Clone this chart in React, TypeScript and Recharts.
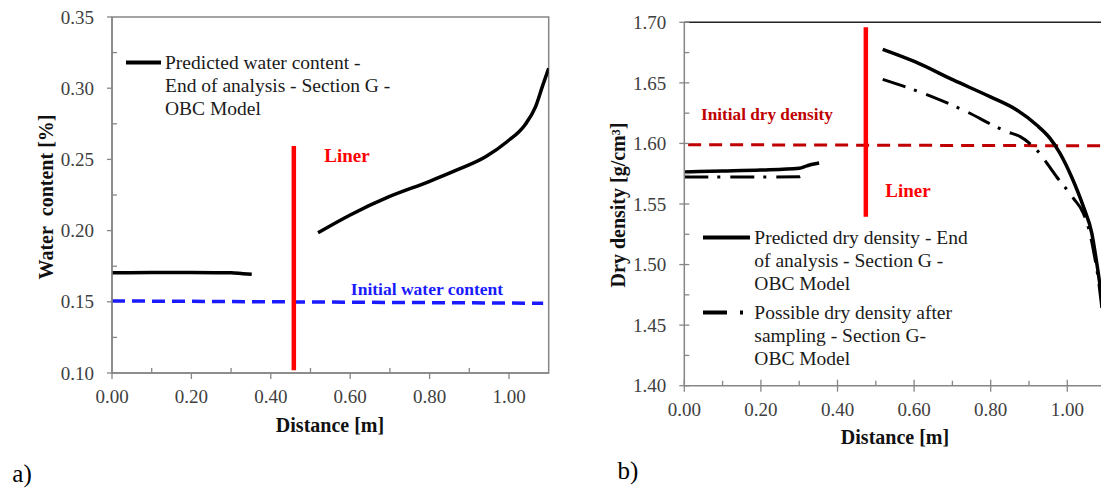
import React from 'react';
import { LineChart, Line, XAxis, YAxis, ReferenceLine, ReferenceArea } from 'recharts';

const FONT = '"Liberation Serif", "Times New Roman", serif';
const AXIS = '#868686';

// shared x ticks (0.2 labelled, 0.1 minor)
const xTicks = [0, 0.1, 0.2, 0.3, 0.4, 0.5, 0.6, 0.7, 0.8, 0.9, 1.0];

// a) water content
const wcTicks = [0.1, 0.125, 0.15, 0.175, 0.2, 0.225, 0.25, 0.275, 0.3, 0.325, 0.35];
const wcBefore = [
  { x: 0, y: 0.1704 }, { x: 0.1, y: 0.1705 }, { x: 0.2, y: 0.1705 }, { x: 0.3, y: 0.1704 },
  { x: 0.33, y: 0.1697 }, { x: 0.352, y: 0.1693 },
];
const wcAfter = [
  { x: 0.519, y: 0.1985 }, { x: 0.6, y: 0.211 }, { x: 0.698, y: 0.2238 }, { x: 0.797, y: 0.2343 },
  { x: 0.869, y: 0.2426 }, { x: 0.941, y: 0.2519 }, { x: 0.995, y: 0.2624 }, { x: 1.04, y: 0.2742 },
  { x: 1.067, y: 0.287 }, { x: 1.085, y: 0.302 }, { x: 1.1, y: 0.314 },
];
const wcInitial = [{ x: 0, y: 0.1506 }, { x: 1.086, y: 0.149 }];
const wcLiner = [{ x: 0.458, y: 0.102 }, { x: 0.458, y: 0.2594 }];

// b) dry density
const ddTicks = [1.4, 1.425, 1.45, 1.475, 1.5, 1.525, 1.55, 1.575, 1.6, 1.625, 1.65, 1.675, 1.7];
const ddBefore = [
  { x: 0, y: 1.5765 }, { x: 0.1, y: 1.5772 }, { x: 0.2, y: 1.578 }, { x: 0.3, y: 1.5795 },
  { x: 0.32, y: 1.5815 }, { x: 0.335, y: 1.5828 }, { x: 0.352, y: 1.5838 },
];
const ddAfter = [
  { x: 0.518, y: 1.6777 }, { x: 0.602, y: 1.6675 }, { x: 0.702, y: 1.6524 }, { x: 0.798, y: 1.6386 },
  { x: 0.868, y: 1.6276 }, { x: 0.92, y: 1.6152 }, { x: 0.955, y: 1.6042 }, { x: 0.981, y: 1.5918 },
  { x: 1.011, y: 1.5725 }, { x: 1.042, y: 1.5478 }, { x: 1.064, y: 1.5258 }, { x: 1.077, y: 1.501 },
  { x: 1.088, y: 1.4763 }, { x: 1.1, y: 1.44 },
];
const ddSampBefore = [
  { x: 0, y: 1.5722 }, { x: 0.15, y: 1.5722 }, { x: 0.3, y: 1.5725 }, { x: 0.315, y: 1.5755 },
];
const ddSampAfter = [
  { x: 0.518, y: 1.6529 }, { x: 0.624, y: 1.6414 }, { x: 0.728, y: 1.6276 }, { x: 0.842, y: 1.6097 },
  { x: 0.877, y: 1.6056 }, { x: 0.92, y: 1.5946 }, { x: 0.972, y: 1.5725 }, { x: 1.016, y: 1.5547 },
  { x: 1.042, y: 1.5423 }, { x: 1.059, y: 1.5258 }, { x: 1.068, y: 1.512 }, { x: 1.08, y: 1.49 },
  { x: 1.095, y: 1.45 },
];
const ddInitial = [{ x: 0.01, y: 1.599 }, { x: 1.1, y: 1.598 }];
const ddLiner = [{ x: 0.474, y: 1.5395 }, { x: 0.474, y: 1.6959 }];

const isMajor = (v: number, step: number) => Math.abs(v / step - Math.round(v / step)) < 1e-6;

function YTick(props: any) {
  const { x, y, payload, cross } = props;
  const major = isMajor(payload.value, 0.05);
  return (
    <g>
      {major ? (
        <line x1={x - 5} x2={cross ? x + 5 : x} y1={y} y2={y} stroke={AXIS} strokeWidth={1.3} />
      ) : (
        <line x1={x} x2={x + 5} y1={y} y2={y} stroke={AXIS} strokeWidth={1.3} />
      )}
      {major && (
        <text x={x - 18} y={y} dy="0.35em" textAnchor="end" fontFamily={FONT} fontSize={19} fill="#404040">
          {payload.value.toFixed(2)}
        </text>
      )}
    </g>
  );
}

function XTick(props: any) {
  const { x, y, payload, cross } = props;
  const major = isMajor(payload.value, 0.2);
  return (
    <g>
      {major ? (
        <line x1={x} x2={x} y1={cross ? y - 6 : y} y2={y + 6} stroke={AXIS} strokeWidth={1.3} />
      ) : (
        <line x1={x} x2={x} y1={y - 5} y2={y} stroke={AXIS} strokeWidth={1.3} />
      )}
      {major && (
        <text x={x} y={y + 30} textAnchor="middle" fontFamily={FONT} fontSize={19} fill="#404040">
          {payload.value.toFixed(2)}
        </text>
      )}
    </g>
  );
}

const legendText: React.CSSProperties = {
  fontFamily: FONT, fontSize: 19.5, lineHeight: '23px', color: '#1a1a1a', whiteSpace: 'nowrap',
};

const Sample = ({ dash, len }: { dash?: string; len: number }) => (
  <svg width={len + 2} height={23} style={{ flex: 'none', display: 'block' }}>
    <line x1={0} x2={dash ? len - 8 : len - 2} y1={11.5} y2={11.5} stroke="#000" strokeWidth={4} strokeDasharray={dash} />
  </svg>
);

const Txt = ({ x, y, children, style }: any) => (
  <div
    style={{
      position: 'absolute', left: x, top: y, transform: 'translate(-50%, -50%)',
      whiteSpace: 'nowrap', fontFamily: FONT, lineHeight: 1, ...style,
    }}
  >
    {children}
  </div>
);

const VTxt = ({ x, y, children }: any) => (
  <div
    style={{
      position: 'absolute', left: x, top: y, transform: 'translate(-50%, -50%) rotate(-90deg)',
      whiteSpace: 'nowrap', fontFamily: FONT, fontWeight: 'bold', fontSize: 20, lineHeight: 1, color: '#111',
    }}
  >
    {children}
  </div>
);

export default function App() {
  return (
    <div style={{ position: 'absolute', left: 0, top: 0, width: 1101, height: 489, overflow: 'hidden', background: '#fff' }}>
      <div style={{ position: 'absolute', left: 0, top: 0 }}>
        <LineChart width={560} height={489} margin={{ top: 17, right: 11.3, bottom: 86, left: 52 }}>
          <XAxis
            dataKey="x" type="number" domain={[0, 1.1]} ticks={xTicks} interval={0} height={30}
            tickSize={0} tickMargin={0} axisLine={{ stroke: AXIS, strokeWidth: 1.5 }} tick={<XTick />}
            allowDataOverflow
          />
          <YAxis
            type="number" domain={[0.1, 0.35]} ticks={wcTicks} interval={0} width={60}
            tickSize={0} tickMargin={0} axisLine={{ stroke: AXIS, strokeWidth: 1.5 }} tick={<YTick />}
            allowDataOverflow
          />
          <ReferenceArea x1={0} x2={1.1} y1={0.1} y2={0.35} fill="none" fillOpacity={0} stroke={AXIS} strokeWidth={1.5} />
          <Line data={wcInitial} dataKey="y" type="linear" stroke="#1a1aff" strokeWidth={3.5} strokeDasharray="13 7" dot={false} isAnimationActive={false} />
          <Line data={wcLiner} dataKey="y" type="linear" stroke="#ff0000" strokeWidth={4.5} dot={false} isAnimationActive={false} />
          <Line data={wcBefore} dataKey="y" type="monotone" stroke="#000" strokeWidth={3.5} dot={false} isAnimationActive={false} />
          <Line data={wcAfter} dataKey="y" type="monotone" stroke="#000" strokeWidth={3.5} dot={false} isAnimationActive={false} />
        </LineChart>
      </div>

      <div style={{ position: 'absolute', left: 580, top: 0 }}>
        <LineChart width={560} height={489} margin={{ top: 22.3, right: 34.4, bottom: 73.3, left: 44.3 }}>
          <XAxis
            dataKey="x" type="number" domain={[0, 1.1]} ticks={xTicks} interval={0} height={30}
            tickSize={0} tickMargin={0} axisLine={{ stroke: AXIS, strokeWidth: 1.5 }} tick={<XTick cross />}
            allowDataOverflow
          />
          <YAxis
            type="number" domain={[1.4, 1.7]} ticks={ddTicks} interval={0} width={60}
            tickSize={0} tickMargin={0} axisLine={{ stroke: AXIS, strokeWidth: 1.5 }} tick={<YTick cross />}
            allowDataOverflow
          />
          <ReferenceLine y={1.7} stroke="#222" strokeWidth={1.5} />
          <Line data={ddInitial} dataKey="y" type="linear" stroke="#c00000" strokeWidth={3} strokeDasharray="13 8" dot={false} isAnimationActive={false} />
          <Line data={ddLiner} dataKey="y" type="linear" stroke="#ff0000" strokeWidth={4.5} dot={false} isAnimationActive={false} />
          <Line data={ddSampBefore} dataKey="y" type="monotone" stroke="#000" strokeWidth={3} strokeDasharray="24 9 3 10" dot={false} isAnimationActive={false} />
          <Line data={ddSampAfter} dataKey="y" type="monotone" stroke="#000" strokeWidth={3} strokeDasharray="24 9 3 10" dot={false} isAnimationActive={false} />
          <Line data={ddBefore} dataKey="y" type="monotone" stroke="#000" strokeWidth={3.5} dot={false} isAnimationActive={false} />
          <Line data={ddAfter} dataKey="y" type="monotone" stroke="#000" strokeWidth={3.5} dot={false} isAnimationActive={false} />
        </LineChart>
      </div>

      {/* legends */}
      <div style={{ position: 'absolute', left: 126, top: 50.5, display: 'flex' }}>
        <Sample len={37} />
        <div style={legendText}>Predicted water content -<br />End of analysis - Section G -<br />OBC Model</div>
      </div>
      <div style={{ position: 'absolute', left: 703.3, top: 226 }}>
        <div style={{ display: 'flex' }}>
          <Sample len={49} />
          <div style={legendText}>Predicted dry density - End<br />of analysis - Section G -<br />OBC Model</div>
        </div>
        <div style={{ display: 'flex', marginTop: 6 }}>
          <Sample len={49} dash="24 13 3 20" />
          <div style={legendText}>Possible dry density after<br />sampling - Section G-<br />OBC Model</div>
        </div>
      </div>

      {/* annotations */}
      <Txt x={347} y={155} style={{ color: '#ff0000', fontWeight: 'bold', fontSize: 19 }}>Liner</Txt>
      <Txt x={427} y={290} style={{ color: '#1a1aff', fontWeight: 'bold', fontSize: 17.5 }}>Initial water content</Txt>
      <Txt x={908} y={190} style={{ color: '#ff0000', fontWeight: 'bold', fontSize: 19 }}>Liner</Txt>
      <Txt x={767} y={115} style={{ color: '#c00000', fontWeight: 'bold', fontSize: 17.2 }}>Initial dry density</Txt>

      {/* axis titles */}
      <Txt x={330} y={425} style={{ fontWeight: 'bold', fontSize: 20, color: '#111' }}>Distance [m]</Txt>
      <Txt x={895} y={437} style={{ fontWeight: 'bold', fontSize: 20, color: '#111' }}>Distance [m]</Txt>
      <VTxt x={46} y={197}>Water&nbsp; content [%]</VTxt>
      <VTxt x={618} y={205}>Dry density [g/cm³]</VTxt>

      <Txt x={22} y={473} style={{ fontSize: 25, color: '#000' }}>a)</Txt>
      <Txt x={628} y={470} style={{ fontSize: 25, color: '#000' }}>b)</Txt>
    </div>
  );
}
